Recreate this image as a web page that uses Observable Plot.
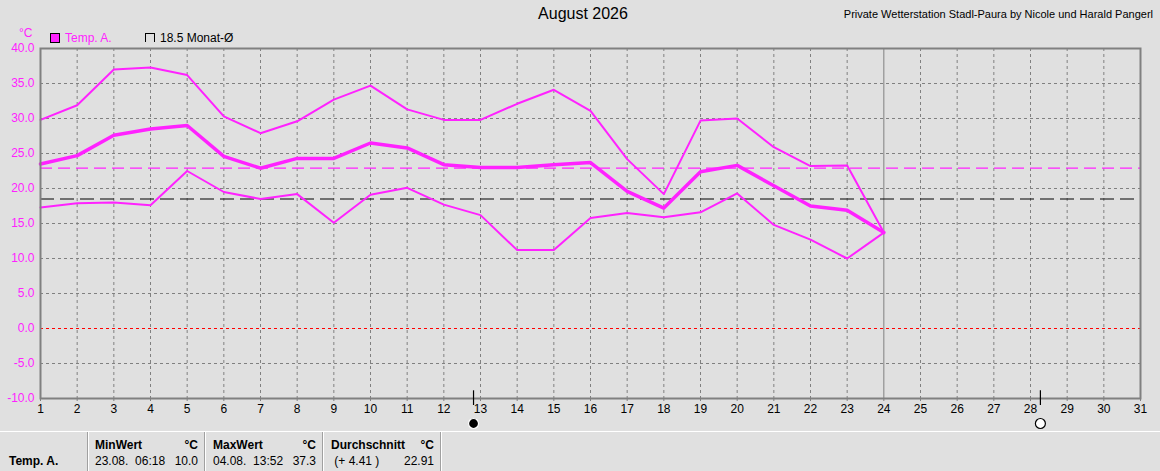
<!DOCTYPE html>
<html>
<head>
<meta charset="utf-8">
<script src="https://cdn.jsdelivr.net/npm/d3@7"></script>
<script src="https://cdn.jsdelivr.net/npm/@observablehq/plot@0.6"></script>
<style>
  html, body { margin:0; padding:0; background:#e0e0e0; }
  #wrap { position:relative; width:1160px; height:471px; overflow:hidden; background:#e0e0e0;
          font-family:"Liberation Sans", Arial, sans-serif; font-size:12px; color:#000; }
  #chart { position:absolute; left:0; top:0; }
  .abs { position:absolute; white-space:pre; }
  .b { font-weight:bold; }
  .sep { position:absolute; top:432px; width:1px; height:39px; background:#a0a0a0; border-right:1px solid #fff; }
</style>
</head>
<body>
<div id="wrap">
  <div id="chart"></div>
  <div class="abs" style="left:0;width:1166px;top:5px;text-align:center;font-size:16px;">August 2026</div>
  <div class="abs" style="right:7px;top:8px;font-size:11px;">Private Wetterstation Stadl-Paura by Nicole und Harald Pangerl</div>
  <div class="abs" style="left:19px;top:26px;color:#ff22ff;">°C</div>
  <div class="abs" style="left:50px;top:33px;width:8px;height:8px;background:#ff22ff;border:1px solid #000;"></div>
  <div class="abs" style="left:65px;top:31px;color:#ff22ff;">Temp. A.</div>
  <div class="abs" style="left:145px;top:33px;width:8px;height:8px;border-left:1px solid #000;border-top:1px solid #000;border-right:1px solid #000;"></div>
  <div class="abs" style="left:160px;top:31px;">18.5 Monat-Ø</div>

  <div class="abs" style="left:0;top:431px;width:1160px;height:1px;background:#fff;"></div>
  <div class="sep" style="left:87px;"></div>
  <div class="sep" style="left:204px;"></div>
  <div class="sep" style="left:322px;"></div>
  <div class="sep" style="left:440px;"></div>
  <div id="table"></div>
</div>
<script>
// ---- data ----
const days      = [1,2,3,4,5,6,7,8,9,10,11,12,13,14,15,16,17,18,19,20,21,22,23,24];
const tMax      = [29.8,31.9,37.0,37.3,36.2,30.3,27.9,29.6,32.7,34.7,31.3,29.8,29.8,32.1,34.1,31.1,24.2,19.2,29.7,30.0,25.9,23.2,23.3,13.7];
const tMean     = [23.5,24.7,27.6,28.5,29.0,24.6,22.9,24.3,24.3,26.5,25.8,23.4,23.0,23.0,23.4,23.7,19.6,17.2,22.4,23.3,20.4,17.5,16.9,13.7];
const tMin      = [17.3,17.9,18.0,17.6,22.5,19.5,18.5,19.2,15.1,19.1,20.1,17.7,16.2,11.2,11.2,15.8,16.5,15.9,16.6,19.3,14.8,12.7,10.0,13.7];
const xTicks    = d3.range(1, 32);
const yTicks    = [-10,-5,0,5,10,15,20,25,30,35,40];
const monthAvg  = [18.5];
const periodAvg = [22.91];
const today     = [24];
const moonDays  = [12.81, 28.27];
const moonTypes = ["new", "full"];
const statLabels = ["MinWert", "MaxWert", "Durchschnitt"];
const statLine   = ["23.08.  06:18", "04.08.  13:52", " (+ 4.41 )"];
const statValues = ["10.0", "37.3", "22.91"];

const MAG = "#ff22ff";
const rows = days.map((d, i) => ({day: d, max: tMax[i], mean: tMean[i], min: tMin[i]}));
const moons = moonDays.map((d, i) => ({day: d, type: moonTypes[i]}));

const chart = Plot.plot({
  width: 1160, height: 431,
  marginLeft: 40, marginRight: 20, marginTop: 48, marginBottom: 33,
  style: {background: "transparent", fontFamily: "Liberation Sans, Arial, sans-serif", fontSize: "12px", color: "#000"},
  x: {domain: [1, 31], label: null},
  y: {domain: [-10, 40], label: null},
  marks: [
    Plot.gridX(xTicks.filter(d => d !== 1 && d !== 31 && d !== 24), {stroke: "#808080", strokeOpacity: 1, strokeDasharray: "3,3"}),
    Plot.gridY(yTicks.filter(d => d !== -10 && d !== 40 && d !== 0), {stroke: "#808080", strokeOpacity: 1, strokeDasharray: "3,3"}),
    Plot.ruleX(today, {stroke: "#808080", strokeWidth: 1}),
    Plot.ruleY([0], {stroke: "#ff0000", strokeDasharray: "3,3", strokeWidth: 1.2}),
    Plot.ruleY(periodAvg, {stroke: MAG, strokeDasharray: "12,6", strokeWidth: 1.2}),
    Plot.ruleY(monthAvg, {stroke: "#000", strokeDasharray: "14,6", strokeWidth: 1.2}),
    Plot.line(rows, {x: "day", y: "max", stroke: MAG, strokeWidth: 2}),
    Plot.line(rows, {x: "day", y: "min", stroke: MAG, strokeWidth: 2}),
    Plot.line(rows, {x: "day", y: "mean", stroke: MAG, strokeWidth: 3.5}),
    Plot.frame({stroke: "#808080", strokeWidth: 2}),
    Plot.axisY({ticks: yTicks, tickFormat: d => d.toFixed(1), tickSize: 0, tickPadding: 6, color: MAG, fontSize: 12, label: null}),
    Plot.axisX({ticks: xTicks, tickFormat: d => String(d), tickSize: 3, tickPadding: 3, color: "#000", stroke: "#808080", fontSize: 12, label: null}),
    Plot.ruleX(moons, {x: "day", y1: -8.9, y2: -11, stroke: "#000", strokeWidth: 1.2, clip: false}),
    Plot.dot(moons, {x: "day", y: () => -10, dy: 25, r: 5, stroke: d => d.type === "new" ? "#fff" : "#000", fill: d => d.type === "new" ? "#000" : "#fff", strokeWidth: 1.2})
  ]
});
document.getElementById("chart").appendChild(chart);

// ---- summary table ----
const table = document.getElementById("table");
function put(txt, left, top, cls, right) {
  const el = document.createElement("div");
  el.className = "abs " + (cls || "");
  el.textContent = txt;
  el.style.top = top + "px";
  if (right !== undefined) { el.style.left = (right - 60) + "px"; el.style.width = "60px"; el.style.textAlign = "right"; }
  else el.style.left = left + "px";
  table.appendChild(el);
}
put("Temp. A.", 9, 454, "b");
const starts = [95, 213, 331];
const ends   = [198, 316, 434];
statLabels.forEach((s, i) => {
  put(s, starts[i], 438, "b");
  put("°C", 0, 438, "b", ends[i]);
  put(statLine[i], starts[i], 454, "");
  put(statValues[i], 0, 454, "", ends[i]);
});
</script>
</body>
</html>
